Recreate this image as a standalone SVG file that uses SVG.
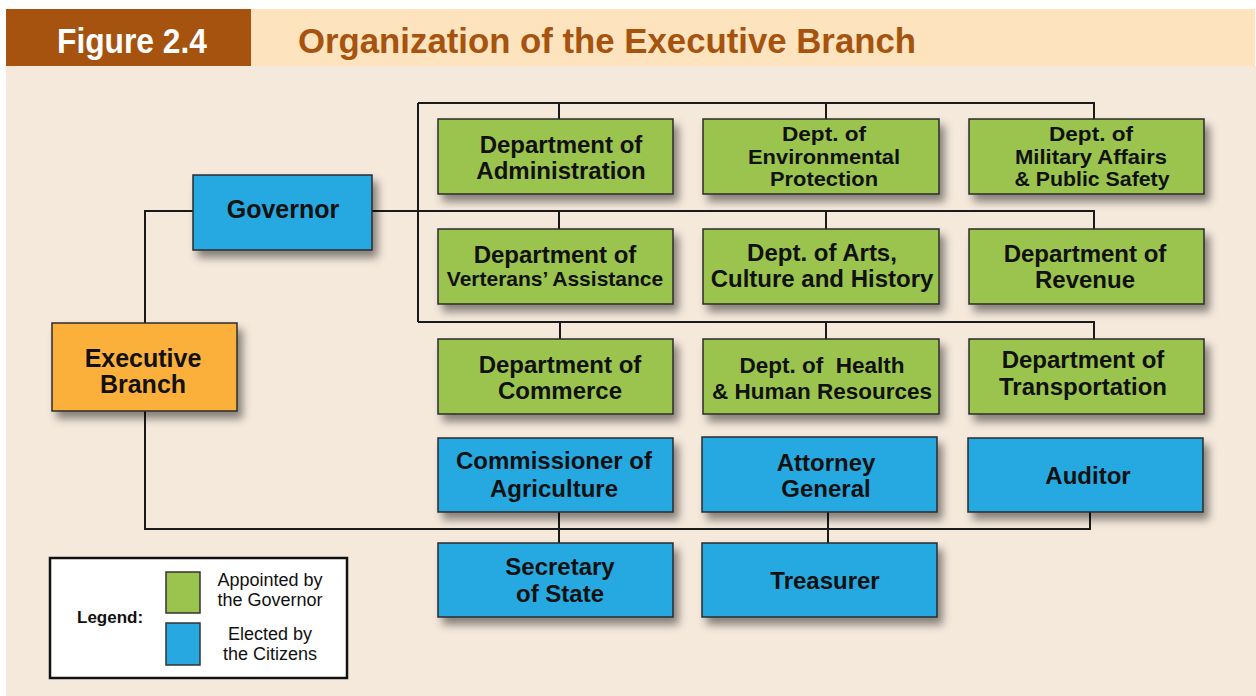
<svg xmlns="http://www.w3.org/2000/svg" width="1256" height="696" viewBox="0 0 1256 696">
  <defs>
    <filter id="shadow" x="-10%" y="-15%" width="130%" height="150%">
      <feDropShadow dx="5" dy="7" stdDeviation="4" flood-color="#000" flood-opacity="0.45"/>
    </filter>
    <style>
      .box { stroke: #2b2b2b; stroke-width: 1.5; filter: url(#shadow); }
      .green { fill: #9AC44E; }
      .blue { fill: #27A8E0; }
      .orange { fill: #FBB03B; }
      .lbl { font-family: "Liberation Sans", Arial, sans-serif; font-weight: bold; fill: #111; text-anchor: middle; font-size: 24px; }
      .sm { font-size: 21px; }
      .tri { font-size: 20px; }
      .md { font-size: 22.5px; }
      .lg { font-size: 25px; }
      .wire { fill: none; stroke: #1a1a1a; stroke-width: 2; }
      .legtxt { font-family: "Liberation Sans", Arial, sans-serif; font-size: 18px; fill: #111; text-anchor: middle; }
    </style>
  </defs>

  <!-- page background and header band -->
  <rect x="0" y="0" width="1256" height="696" fill="#ffffff"/>
  <rect x="6" y="66" width="1250" height="630" fill="#F5E9DC"/>
  <rect x="6" y="9" width="245" height="57" fill="#A5530E"/>
  <rect x="251" y="9" width="1004" height="57" fill="#FDE4BE"/>
  <text x="57" y="53" font-family="Liberation Sans, Arial, sans-serif" font-weight="bold" font-size="35" fill="#ffffff" textLength="150" lengthAdjust="spacingAndGlyphs">Figure 2.4</text>
  <text x="298" y="53" font-family="Liberation Sans, Arial, sans-serif" font-weight="bold" font-size="35" fill="#A5530E" textLength="618" lengthAdjust="spacingAndGlyphs">Organization of the Executive Branch</text>

  <!-- connectors -->
  <g id="connectors">
    <path class="wire" d="M145,323 V211 H193"/>
    <path class="wire" d="M372,211 H1094 V229"/>
    <path class="wire" d="M418,103 V322"/>
    <path class="wire" d="M418,103 H1094 V119"/>
    <path class="wire" d="M559,103 V119 M826,103 V119"/>
    <path class="wire" d="M559,211 V229 M826,211 V229"/>
    <path class="wire" d="M418,322 H1094 V339"/>
    <path class="wire" d="M560,322 V339 M826,322 V339"/>
    <path class="wire" d="M145,411 V529 H1090 V512"/>
    <path class="wire" d="M559,512 V543 M828,512 V543"/>
  </g>

  <!-- top level -->
  <g id="executive-branch">
    <rect class="box orange" x="52" y="323" width="185" height="88"/>
    <text class="lbl lg" x="143" y="367">Executive</text>
    <text class="lbl lg" x="143" y="393">Branch</text>
  </g>
  <g id="governor">
    <rect class="box blue" x="193" y="175" width="179" height="75"/>
    <text class="lbl lg" x="283" y="218">Governor</text>
  </g>

  <!-- row 1 -->
  <g id="dept-administration">
    <rect class="box green" x="438" y="119" width="235" height="75"/>
    <text class="lbl" x="561" y="153">Department of</text>
    <text class="lbl" x="561" y="179">Administration</text>
  </g>
  <g id="dept-environmental-protection">
    <rect class="box green" x="703" y="119" width="236" height="75"/>
    <text class="lbl tri" x="824" y="141" textLength="84" lengthAdjust="spacingAndGlyphs">Dept. of</text>
    <text class="lbl tri" x="824" y="163.5" textLength="152" lengthAdjust="spacingAndGlyphs">Environmental</text>
    <text class="lbl tri" x="824" y="186" textLength="108" lengthAdjust="spacingAndGlyphs">Protection</text>
  </g>
  <g id="dept-military-affairs">
    <rect class="box green" x="969" y="119" width="235" height="75"/>
    <text class="lbl tri" x="1091" y="141" textLength="84" lengthAdjust="spacingAndGlyphs">Dept. of</text>
    <text class="lbl tri" x="1091" y="163.5" textLength="152" lengthAdjust="spacingAndGlyphs">Military Affairs</text>
    <text class="lbl tri" x="1092" y="186" textLength="155" lengthAdjust="spacingAndGlyphs">&amp; Public Safety</text>
  </g>

  <!-- row 2 -->
  <g id="dept-veterans-assistance">
    <rect class="box green" x="438" y="229" width="235" height="75"/>
    <text class="lbl" x="555" y="263">Department of</text>
    <text class="lbl sm" x="555" y="286">Verterans’ Assistance</text>
  </g>
  <g id="dept-arts-culture-history">
    <rect class="box green" x="703" y="229" width="236" height="75"/>
    <text class="lbl" x="822" y="261">Dept. of Arts,</text>
    <text class="lbl" x="822" y="287">Culture and History</text>
  </g>
  <g id="dept-revenue">
    <rect class="box green" x="969" y="229" width="235" height="75"/>
    <text class="lbl" x="1085" y="262">Department of</text>
    <text class="lbl" x="1085" y="288">Revenue</text>
  </g>

  <!-- row 3 -->
  <g id="dept-commerce">
    <rect class="box green" x="438" y="339" width="235" height="75"/>
    <text class="lbl" x="560" y="373">Department of</text>
    <text class="lbl" x="560" y="399">Commerce</text>
  </g>
  <g id="dept-health-human-resources">
    <rect class="box green" x="703" y="339" width="236" height="75"/>
    <text class="lbl md" x="822" y="373" xml:space="preserve">Dept. of  Health</text>
    <text class="lbl md" x="822" y="399">&amp; Human Resources</text>
  </g>
  <g id="dept-transportation">
    <rect class="box green" x="969" y="339" width="235" height="75"/>
    <text class="lbl" x="1083" y="368">Department of</text>
    <text class="lbl" x="1083" y="395">Transportation</text>
  </g>

  <!-- elected officials -->
  <g id="commissioner-agriculture">
    <rect class="box blue" x="438" y="438" width="235" height="74"/>
    <text class="lbl" x="554" y="469">Commissioner of</text>
    <text class="lbl" x="554" y="497">Agriculture</text>
  </g>
  <g id="attorney-general">
    <rect class="box blue" x="702" y="437" width="235" height="75"/>
    <text class="lbl" x="826" y="471">Attorney</text>
    <text class="lbl" x="826" y="497">General</text>
  </g>
  <g id="auditor">
    <rect class="box blue" x="968" y="438" width="235" height="74"/>
    <text class="lbl" x="1088" y="484">Auditor</text>
  </g>
  <g id="secretary-of-state">
    <rect class="box blue" x="438" y="543" width="235" height="74"/>
    <text class="lbl" x="560" y="575">Secretary</text>
    <text class="lbl" x="560" y="602">of State</text>
  </g>
  <g id="treasurer">
    <rect class="box blue" x="702" y="543" width="235" height="74"/>
    <text class="lbl" x="825" y="589">Treasurer</text>
  </g>

  <!-- legend -->
  <g id="legend">
    <rect x="50" y="558" width="297" height="120" fill="#ffffff" stroke="#111" stroke-width="2.5"/>
    <text x="77" y="623" font-family="Liberation Sans, Arial, sans-serif" font-weight="bold" font-size="17" fill="#111">Legend:</text>
    <rect x="166" y="572" width="34" height="41" fill="#9AC44E" stroke="#333" stroke-width="1.5"/>
    <rect x="166" y="623" width="34" height="42" fill="#27A8E0" stroke="#333" stroke-width="1.5"/>
    <text class="legtxt" x="270" y="586">Appointed by</text>
    <text class="legtxt" x="270" y="606">the Governor</text>
    <text class="legtxt" x="270" y="640">Elected by</text>
    <text class="legtxt" x="270" y="660">the Citizens</text>
  </g>
</svg>
